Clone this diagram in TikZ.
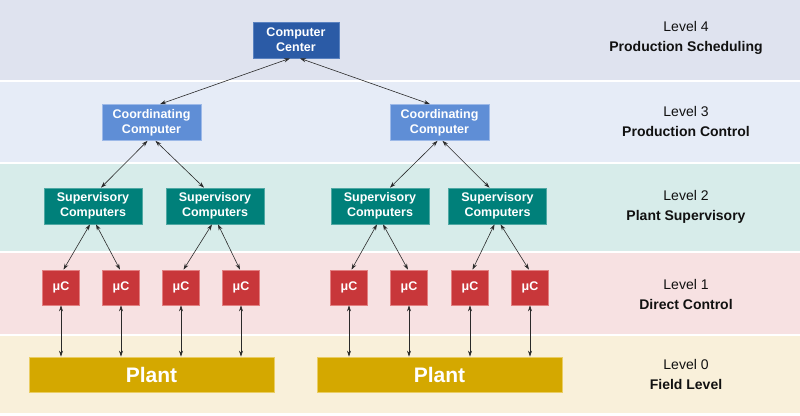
\documentclass[tikz,border=0pt]{standalone}
\usepackage{fontspec}
\setmainfont{Liberation Sans}
\usetikzlibrary{arrows.meta,calc}
\definecolor{bandA}{HTML}{DFE3EF}
\definecolor{bandB}{HTML}{E6ECF7}
\definecolor{bandC}{HTML}{D7ECEA}
\definecolor{bandD}{HTML}{F7E1E2}
\definecolor{bandE}{HTML}{F9F0DA}
\definecolor{ccfill}{HTML}{2B5BA6}
\definecolor{ccline}{HTML}{5A82C0}
\definecolor{cofill}{HTML}{5F8ED6}
\definecolor{coline}{HTML}{9DB9E8}
\definecolor{sufill}{HTML}{00807A}
\definecolor{suline}{HTML}{4FA8A3}
\definecolor{mufill}{HTML}{C8373A}
\definecolor{muline}{HTML}{E27F80}
\definecolor{plfill}{HTML}{D4A800}
\definecolor{plline}{HTML}{EACD63}
\definecolor{arrowc}{HTML}{2A2A2A}
\definecolor{labelc}{HTML}{111111}
\begin{document}
\begin{tikzpicture}[x=1pt,y=-1pt,
  box/.style={draw, line width=0.7pt, text=white, align=center, inner sep=0pt,
    font=\fontsize{12.5}{15}\selectfont\bfseries},
  ccbox/.style={box, fill=ccfill, draw=ccline, minimum width=86pt, minimum height=36pt},
  cobox/.style={box, fill=cofill, draw=coline, minimum width=99pt, minimum height=36pt},
  subox/.style={box, fill=sufill, draw=suline, minimum width=98pt, minimum height=36pt},
  mubox/.style={box, fill=mufill, draw=muline, minimum width=37pt, minimum height=35pt},
  plbox/.style={box, fill=plfill, draw=plline, minimum width=245pt, minimum height=35pt,
    font=\fontsize{21}{22}\selectfont\bfseries},
  lvl/.style={align=center, text=labelc, font=\fontsize{14}{20}\selectfont},
  link/.style={draw=arrowc, line width=0.6pt,
    {Stealth[length=6pt,width=4pt]}-{Stealth[length=6pt,width=4pt]}}]
\fill[white] (0,0) rectangle (800,415);
\useasboundingbox (0,0) rectangle (800,415);
\fill[bandA] (0,0) rectangle (800,80);
\fill[bandB] (0,82) rectangle (800,162);
\fill[bandC] (0,164) rectangle (800,251);
\fill[bandD] (0,253) rectangle (800,334);
\fill[bandE] (0,336) rectangle (800,413);

\node[lvl] (l4) at (686,38) {Level 4\\\textbf{Production Scheduling}};
\node[lvl] (l3) at (686,121.5) {Level 3\\\textbf{Production Control}};
\node[lvl] (l2) at (686,207) {Level 2\\\textbf{Plant Supervisory}};
\node[lvl] (l1) at (686,294) {Level 1\\\textbf{Direct Control}};
\node[lvl] (l0) at (686,374) {Level 0\\\textbf{Field Level}};

\node[ccbox] (cc) at (296,40) {Computer\\Center};
\node[cobox] (coL) at (151.5,122.5) {Coordinating\\Computer};
\node[cobox] (coR) at (439.5,122.5) {Coordinating\\Computer};
\node[subox] (sA) at (93,206) {Supervisory\\Computers};
\node[subox] (sB) at (215,206) {Supervisory\\Computers};
\node[subox] (sC) at (380,206) {Supervisory\\Computers};
\node[subox] (sD) at (497.5,206) {Supervisory\\Computers};
\foreach \n/\x in {m1/61,m2/121,m3/181,m4/241,m5/349,m6/409,m7/470,m8/530}
  \node[mubox] (\n) at (\x,287.5) {μC};
\node[plbox] (pL) at (151.5,374.5) {Plant};
\node[plbox] (pR) at (439.5,374.5) {Plant};

\draw[link] ($(cc.south)+(-6,0)$) -- ($(coL.north)+(8.5,0)$);
\draw[link] ($(cc.south)+(4,0)$) -- ($(coR.north)+(-9.5,0)$);

\draw[link] ($(coL.south)+(-4,0)$) -- ($(sA.north)+(8,0)$);
\draw[link] ($(coL.south)+(4,0)$) -- ($(sB.north)+(-11,0)$);
\draw[link] ($(coR.south)+(-2,0)$) -- ($(sC.north)+(10,0)$);
\draw[link] ($(coR.south)+(3,0)$) -- ($(sD.north)+(-8,0)$);

\foreach \s/\a/\b in {sA/m1/m2,sB/m3/m4,sC/m5/m6,sD/m7/m8}{
  \draw[link] ($(\s.south)+(-3,0)$) -- ($(\a.north)+(2.5,0)$);
  \draw[link] ($(\s.south)+(3,0)$) -- ($(\b.north)+(-1,0)$);
}
\foreach \m/\p in {m1/pL,m2/pL,m3/pL,m4/pL,m5/pR,m6/pR,m7/pR,m8/pR}
  \draw[link] (\m.south) -- (\m.south |- \p.north);
\end{tikzpicture}
\end{document}
